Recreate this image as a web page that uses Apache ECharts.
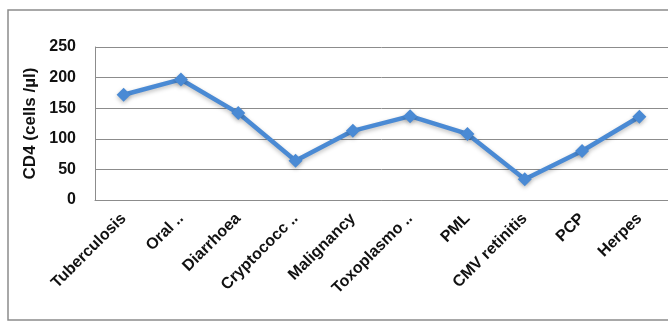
<!DOCTYPE html>
<html>
<head>
<meta charset="utf-8">
<script src="https://cdn.jsdelivr.net/npm/echarts@6/dist/echarts.min.js"></script>
<style>
html,body{margin:0;padding:0;background:#fff;}
#c{width:668px;height:322px;}
</style>
</head>
<body>
<div id="c"></div>
<script>
var categories = ['Tuberculosis', 'Oral ..', 'Diarrhoea', 'Cryptococc ..', 'Malignancy', 'Toxoplasmo ..', 'PML', 'CMV retinitis', 'PCP', 'Herpes'];
var cd4Values = [172, 197, 142, 64, 113, 137, 108, 34, 80, 136];
var yTicks = [0, 50, 100, 150, 200, 250];
var yAxisTitle = 'CD4 (cells /µl)';

var chart = echarts.init(document.getElementById('c'), null, {renderer: 'canvas'});
chart.setOption({
  animation: false,
  backgroundColor: '#fff',
  graphic: [{
    type: 'rect',
    shape: {x: 8, y: 10, width: 680, height: 310},
    style: {fill: 'none', stroke: '#8c8c8c', lineWidth: 1.5},
    silent: true
  }],
  grid: {left: 95, top: 47, width: 577, height: 153, containLabel: false},
  xAxis: {
    type: 'category',
    data: categories,
    boundaryGap: true,
    axisLine: {show: true, lineStyle: {color: '#8c8c8c', width: 1}},
    axisTick: {show: false},
    axisLabel: {
      rotate: 45,
      interval: 0,
      margin: 16,
      color: '#111',
      fontFamily: 'Liberation Sans, Arial, sans-serif',
      fontWeight: 'bold',
      fontSize: 16
    },
    splitLine: {show: false}
  },
  yAxis: {
    type: 'value',
    min: yTicks[0],
    max: yTicks[yTicks.length - 1],
    interval: 50,
    name: yAxisTitle,
    nameLocation: 'middle',
    nameGap: 56,
    nameRotate: 90,
    nameTextStyle: {
      color: '#111',
      fontFamily: 'Liberation Sans, Arial, sans-serif',
      fontWeight: 'bold',
      fontSize: 17
    },
    axisLine: {show: true, lineStyle: {color: '#8c8c8c', width: 1}},
    axisTick: {show: false},
    axisLabel: {
      margin: 19,
      color: '#111',
      fontFamily: 'Liberation Sans, Arial, sans-serif',
      fontWeight: 'bold',
      fontSize: 16
    },
    splitLine: {show: true, lineStyle: {color: '#8c8c8c', width: 1}}
  },
  series: [{
    type: 'line',
    data: cd4Values,
    symbol: 'diamond',
    symbolSize: 14,
    lineStyle: {color: '#4a8ad4', width: 4.5, shadowColor: 'rgba(0,0,0,0.25)', shadowBlur: 4, shadowOffsetY: 2},
    itemStyle: {color: '#4a8ad4', shadowColor: 'rgba(0,0,0,0.25)', shadowBlur: 4, shadowOffsetY: 2},
    z: 3
  }]
});
</script>
</body>
</html>
